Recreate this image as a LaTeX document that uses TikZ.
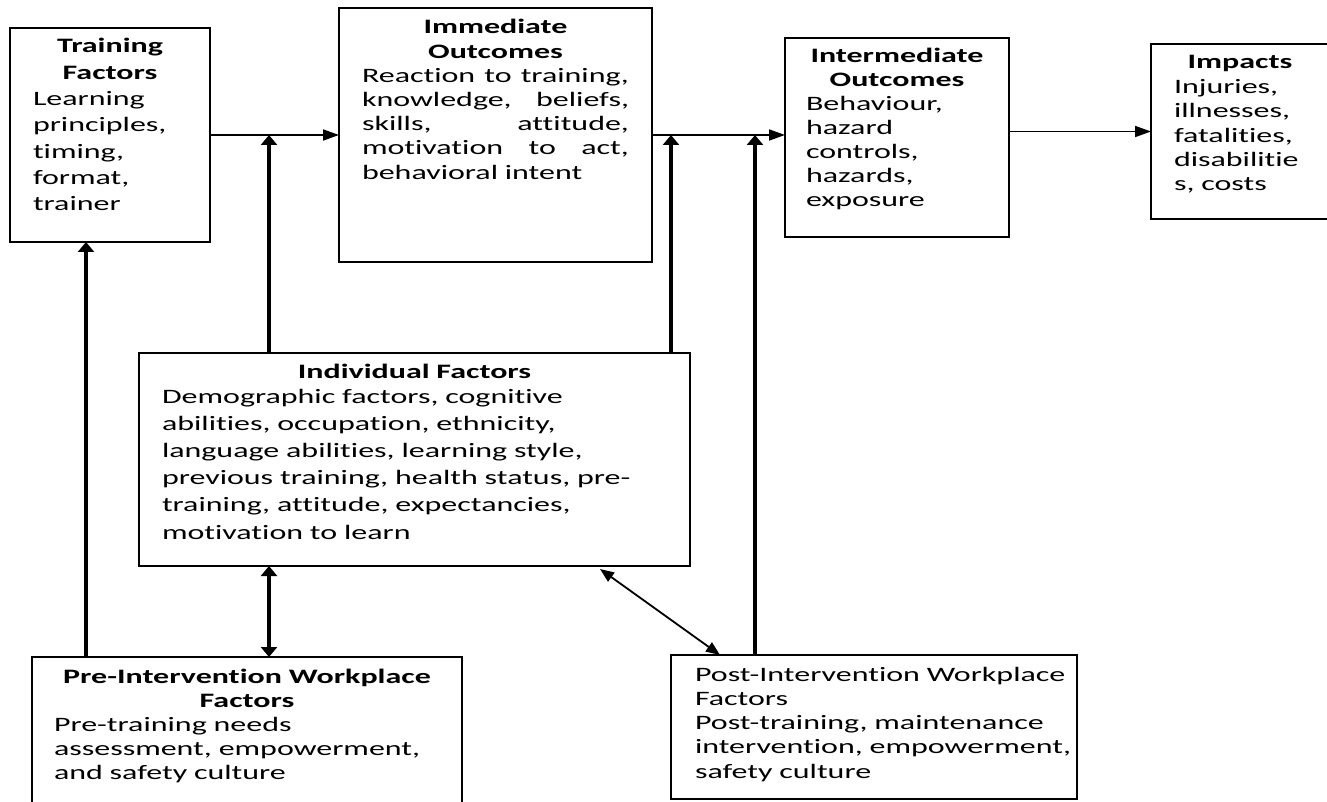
\documentclass[tikz,border=0pt]{standalone}
\usepackage{fontspec}
\setmainfont[FakeStretch=1.56, Ligatures={NoCommon}, RawFeature={-liga;-clig;-dlig}]{Carlito}
\usetikzlibrary{arrows.meta}
\newcommand\noparind{\setlength{\parindent}{0pt}}
\newcommand\jline[1]{\leavevmode\hbox to \linewidth{#1}}
\begin{document}
\begin{tikzpicture}[x=1pt,y=-1pt,
  box/.style={draw, line width=1.8pt, anchor=north west, inner sep=0pt, outer sep=0pt},
  txt/.style={anchor=north west, inner sep=0pt, outer sep=0pt, text width=#1, execute at begin node=\noparind},
  harr/.style={line width=1.8pt, -{Triangle[length=16pt,width=11pt]}},
  varr/.style={line width=3.2pt, -{Triangle[length=10pt,width=16pt]}},
  vdbl/.style={line width=3.2pt, {Triangle[length=10pt,width=16pt]}-{Triangle[length=10pt,width=16pt]}},
  ddbl/.style={line width=1.8pt, {Triangle[length=14pt,width=11pt]}-{Triangle[length=14pt,width=11pt]}}
]
\useasboundingbox (0,0) rectangle (1327,802);
\fill[white] (0,0) rectangle (1327,802);

% boxes
\node[box, minimum width=200pt, minimum height=214pt] (tf) at (10,28) {};
\node[box, minimum width=313pt, minimum height=254pt] (io) at (339,8) {};
\node[box, minimum width=224pt, minimum height=199pt] (inter) at (785,38) {};
\node[box, minimum width=179pt, minimum height=175pt] (imp) at (1151,44) {};
\node[box, minimum width=551pt, minimum height=213pt] (if) at (139,353) {};
\node[box, minimum width=430pt, minimum height=160pt] (pre) at (32,657) {};
\node[box, minimum width=406pt, minimum height=144pt] (post) at (671,655) {};

% texts
\node[txt=154pt, font={\fontsize{20.5}{26.3}\selectfont}] (tft) at (33,37)
  {{\centering\bfseries\rule{0pt}{16pt}Training\\Factors\par}
   \raggedright Learning\\principles,\\timing,\\format,\\trainer};

\node[txt=267pt, font={\fontsize{20.5}{24.2}\selectfont}] (iot) at (362,18)
  {{\centering\bfseries\rule{0pt}{16pt}Immediate\\Outcomes\par}
   \raggedright
   \jline{Reaction\hfill to\hfill training,}\\
   \jline{knowledge,\hfill beliefs,}\\
   \jline{skills,\hfill attitude,}\\
   \jline{motivation\hfill to\hfill act,}\\
   behavioral intent};

\node[txt=182pt, font={\fontsize{20.5}{24}\selectfont}] (intert) at (806,47)
  {{\centering\bfseries\rule{0pt}{16pt}Intermediate\\Outcomes\par}
   \raggedright Behaviour,\\hazard\\controls,\\hazards,\\exposure};

\node[txt=132pt, font={\fontsize{20.5}{24.4}\selectfont}] (impt) at (1174,53)
  {{\centering\bfseries\rule{0pt}{16pt}Impacts\par}
   \raggedright Injuries,\\illnesses,\\fatalities,\\disabilitie\\s, costs};

\node[txt=505pt, font={\fontsize{20.5}{27.2}\selectfont}] (ift) at (162,362)
  {{\centering\bfseries\rule{0pt}{16pt}Individual Factors\par}
   \vskip-2.2pt
   \raggedright Demographic factors, cognitive\\
   abilities, occupation, ethnicity,\\
   language abilities, learning style,\\
   previous training, health status, pre-\\
   training, attitude, expectancies,\\
   motivation to learn};

\node[txt=386pt, font={\fontsize{20.5}{24}\selectfont}] (pret) at (54,667)
  {{\centering\bfseries\rule{0pt}{16pt}Pre-Intervention Workplace\\Factors\par}
   \raggedright Pre-training needs\\assessment, empowerment,\\and safety culture};

\node[txt=380pt, font={\fontsize{20.5}{24.3}\selectfont}] (postt) at (695,665)
  {\raggedright\rule{0pt}{16pt}Post-Intervention Workplace\\Factors\\
   Post-training, maintenance\\intervention, empowerment,\\safety culture};

% horizontal flow arrows
\draw[harr] (tf.east) -- (tf.east -| io.west);
\draw[harr] (io.east) -- (io.east -| inter.west);
\draw[harr] (imp.west -| inter.east) -- (imp.west);

% vertical arrows
\draw[varr] ([xshift=130pt]if.north west) -- ([xshift=130pt]if.north west |- tf.east);
\draw[varr] ([xshift=-19pt]if.north east) -- ([xshift=-19pt]if.north east |- io.east);
\draw[varr] ([xshift=84pt]post.north west) -- ([xshift=84pt]post.north west |- io.east);
\draw[varr] ([xshift=54pt]pre.north west) -- ([xshift=54pt]pre.north west |- tf.south);

% double arrows
\draw[vdbl] ([xshift=130pt]if.south west) -- ([xshift=130pt]if.south west |- pre.north);
\draw[ddbl] ([xshift=-90pt,yshift=-3pt]if.south east) -- ([xshift=49pt]post.north west);
\end{tikzpicture}
\end{document}
